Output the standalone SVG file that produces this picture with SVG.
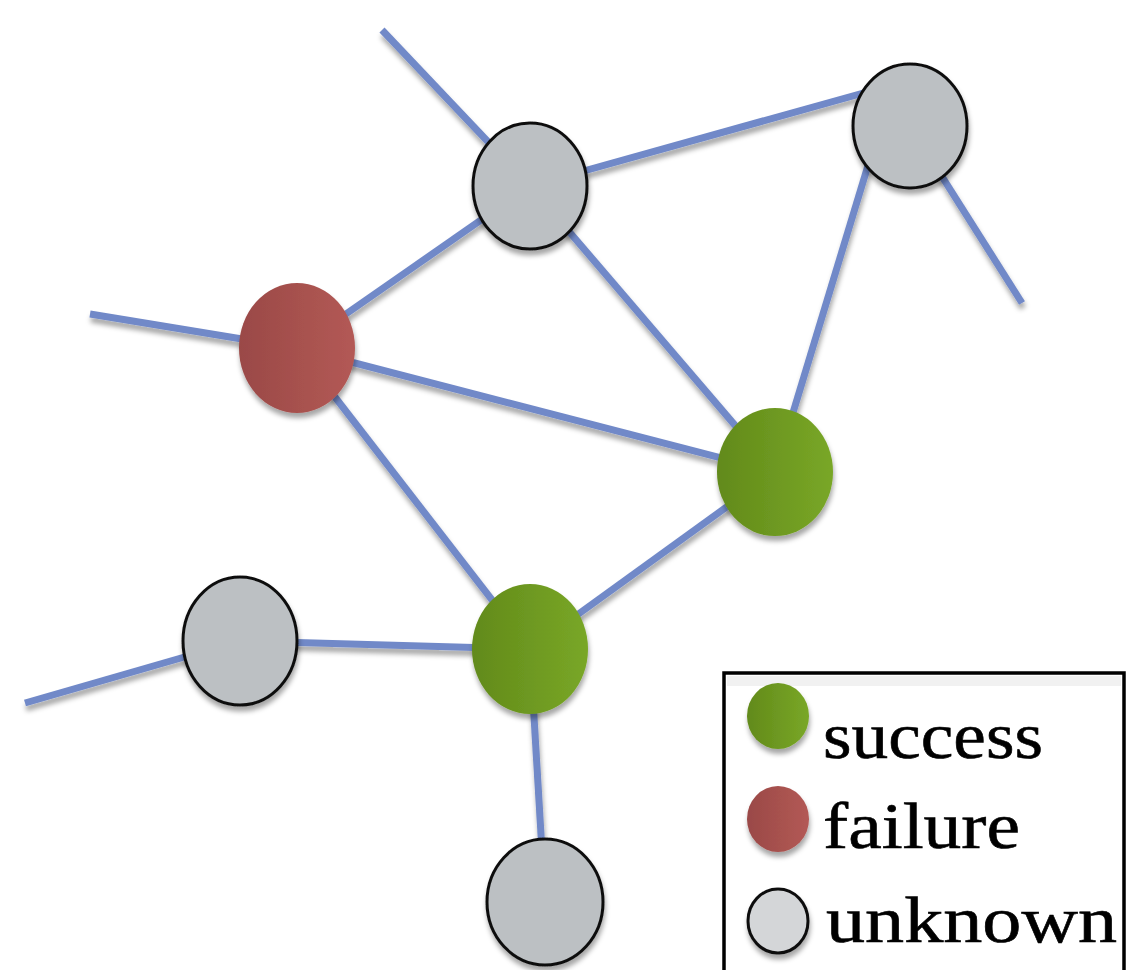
<svg xmlns="http://www.w3.org/2000/svg" width="1128" height="970" viewBox="0 0 1128 970">
<defs>
<style>
.edge{stroke:#7189c8;stroke-width:7;stroke-linecap:butt;fill:none}
.gray{fill:#bcc0c3;stroke:#111;stroke-width:3}
.green{fill:url(#gGreen)}
.red{fill:url(#gRed)}
.lbl{font-family:"Liberation Serif","Times New Roman",serif;font-size:66px;fill:#000;stroke:#000;stroke-width:0.6}
</style>
<linearGradient id="gGreen" x1="0" y1="0" x2="1" y2="0">
<stop offset="0" stop-color="#628a1a"/>
<stop offset="1" stop-color="#79a727"/>
</linearGradient>
<linearGradient id="gRed" x1="0" y1="0" x2="1" y2="0">
<stop offset="0" stop-color="#9a4947"/>
<stop offset="1" stop-color="#b35955"/>
</linearGradient>
<filter id="sh" x="-20%" y="-20%" width="140%" height="150%">
<feDropShadow dx="1" dy="5" stdDeviation="2.5" flood-color="#000" flood-opacity="0.35"/>
</filter>
</defs>
<rect width="1128" height="970" fill="#fff"/>
<g id="connectors" filter="url(#sh)">
<line class="edge" x1="382" y1="30" x2="530" y2="186"/>
<line class="edge" x1="530" y1="186" x2="910" y2="80"/>
<line class="edge" x1="910" y1="126" x2="1022" y2="303"/>
<line class="edge" x1="297" y1="348" x2="530" y2="186"/>
<line class="edge" x1="90" y1="314" x2="297" y2="348"/>
<line class="edge" x1="297" y1="348" x2="775" y2="472"/>
<line class="edge" x1="530" y1="186" x2="775" y2="472"/>
<line class="edge" x1="880" y1="126" x2="775" y2="472"/>
<line class="edge" x1="297" y1="348" x2="530" y2="649"/>
<line class="edge" x1="775" y1="472" x2="530" y2="649"/>
<line class="edge" x1="240" y1="641" x2="530" y2="649"/>
<line class="edge" x1="25" y1="703" x2="240" y2="641"/>
<line class="edge" x1="530" y1="649" x2="545" y2="902"/>
</g>
<g id="node-top" filter="url(#sh)"><ellipse class="gray" cx="530" cy="186" rx="57" ry="63"/></g>
<g id="node-topright" filter="url(#sh)"><ellipse class="gray" cx="910" cy="126" rx="57" ry="62"/></g>
<g id="node-red" filter="url(#sh)"><ellipse class="red" cx="297" cy="348" rx="58" ry="65"/></g>
<g id="node-greenright" filter="url(#sh)"><ellipse class="green" cx="775" cy="472" rx="58" ry="64"/></g>
<g id="node-left" filter="url(#sh)"><ellipse class="gray" cx="240" cy="641" rx="57" ry="64"/></g>
<g id="node-greenbottom" filter="url(#sh)"><ellipse class="green" cx="530" cy="649" rx="58" ry="65"/></g>
<g id="node-bottom" filter="url(#sh)"><ellipse class="gray" cx="545" cy="902" rx="58" ry="63"/></g>
<g id="legend">
<rect x="724" y="673" width="400" height="305" fill="#fff" stroke="#000" stroke-width="3.5"/>
<rect x="727" y="676" width="394" height="10" fill="#e8e8e8" opacity="0.6"/>
<ellipse class="green" cx="778" cy="716" rx="31" ry="33" filter="url(#sh)"/>
<ellipse class="red" cx="778" cy="819" rx="31" ry="33" filter="url(#sh)"/>
<ellipse class="gray" cx="778" cy="921" rx="30" ry="32" style="fill:#d4d6d8" filter="url(#sh)"/>
<text class="lbl" x="823" y="758" textLength="220" lengthAdjust="spacingAndGlyphs">success</text>
<text class="lbl" x="823" y="848" textLength="197" lengthAdjust="spacingAndGlyphs">failure</text>
<text class="lbl" x="826" y="942" textLength="291" lengthAdjust="spacingAndGlyphs">unknown</text>
</g>
</svg>
